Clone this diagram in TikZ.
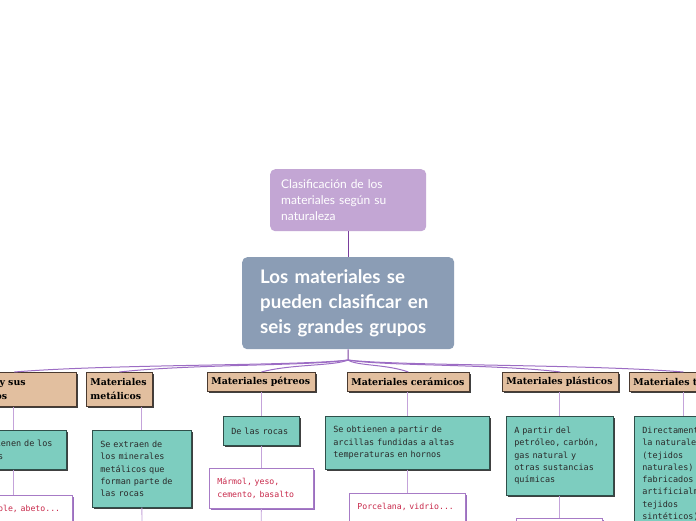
\documentclass[tikz,border=0pt]{standalone}
\usepackage{fontspec}
\setmainfont{Lato}
\newfontfamily\hdrfont{DejaVu Serif}
\newfontfamily\monofont{DejaVu Sans Mono}
\usetikzlibrary{shadows}
\definecolor{topfill}{HTML}{C3A6D4}
\definecolor{mainfill}{HTML}{8B9DB5}
\definecolor{trunk}{HTML}{7A3E9D}
\definecolor{fancol}{HTML}{9C6CC4}
\definecolor{vlinecol}{HTML}{C4A3DA}
\definecolor{hdrfill}{HTML}{E2BF9F}
\definecolor{hdrborder}{HTML}{4A3A30}
\definecolor{childfill}{HTML}{7DCDBF}
\definecolor{childborder}{HTML}{2F4F4A}
\definecolor{textdark}{HTML}{2A2A2A}
\definecolor{gcborder}{HTML}{A77BC6}
\definecolor{gcshadow}{HTML}{9A6FBF}
\definecolor{gctext}{HTML}{C8284A}
\tikzset{
  topbox/.style={fill=topfill, rounded corners=5pt, anchor=north west, inner xsep=11pt, inner ysep=0pt,
    text width=134pt, minimum height=62pt, align=left, text=white, font=\fontsize{12}{16}\selectfont},
  mainbox/.style={fill=mainfill, rounded corners=5pt, anchor=north west, inner xsep=18pt, inner ysep=0pt,
    text width=176pt, minimum height=92pt, align=left, text=white, font=\bfseries\fontsize{18.7}{25}\selectfont},
  hdr/.style={draw=hdrborder, fill=hdrfill, line width=0.8pt, anchor=north west, inner xsep=4pt, inner ysep=0pt,
    align=left, text=black, font=\hdrfont\bfseries\fontsize{9.4}{14}\selectfont,
    drop shadow={shadow xshift=1.5pt, shadow yshift=-1.5pt, opacity=1, fill=black!75}},
  childbox/.style={draw=childborder, fill=childfill, line width=0.7pt, anchor=north west, inner xsep=8pt, inner ysep=0pt,
    align=left, text=textdark, font=\monofont\fontsize{8.5}{12.3}\selectfont,
    drop shadow={shadow xshift=1.5pt, shadow yshift=-1.5pt, opacity=1, fill=black!75}},
  gchild/.style={draw=gcborder, fill=white, line width=0.8pt, anchor=north west, inner xsep=8pt, inner ysep=0pt,
    align=left, text=gctext, font=\monofont\fontsize{8.2}{12.8}\selectfont,
    drop shadow={shadow xshift=1.5pt, shadow yshift=-1.5pt, opacity=1, fill=gcshadow}},
  trunkline/.style={draw=trunk, line width=1pt},
  fan/.style={draw=fancol, line width=1pt},
  vline/.style={draw=vlinecol, line width=0.8pt},
}
\begin{document}
\begin{tikzpicture}[x=1pt,y=-1pt]
\useasboundingbox (0,0) rectangle (696,520);
\clip (0,0) rectangle (696,520);
\fill[white] (0,0) rectangle (696,520);

\node[topbox] (top) at (270,169) {Clasificación de los\\materiales según su\\naturaleza};
\node[mainbox] (main) at (242,257) {Los materiales se\\pueden clasificar en\\seis grandes grupos};
\coordinate (J) at (348,360);

% headers
\node[hdr, text width=116pt, minimum height=34pt] (madH) at (-48,372) {Madera y sus\\derivados};
\node[hdr, text width=58pt, minimum height=34pt] (metH) at (86,372) {Materiales\\metálicos};
\node[hdr, text width=100pt, minimum height=19pt] (petH) at (207,372) {Materiales pétreos};
\node[hdr, text width=114pt, minimum height=19pt] (cerH) at (347,372) {Materiales cerámicos};
\node[hdr, text width=108pt, minimum height=19pt] (plaH) at (502,372) {Materiales plásticos};
\node[hdr, text width=100pt, minimum height=19pt] (texH) at (629,372) {Materiales textiles};

% children
\node[childbox, inner xsep=7pt, text width=92pt, minimum height=39pt] (madC) at (-40,430) {Se obtienen de los\\árboles};
\node[childbox, text width=83pt, minimum height=77pt] (metC) at (92,430) {Se extraen de\\los minerales\\metálicos que\\forman parte de\\las rocas};
\node[childbox, text width=60pt, minimum height=29pt] (petC) at (223,416) {De las rocas};
\node[childbox, text width=148pt, minimum height=53pt] (cerC) at (325,416) {Se obtienen a partir de\\arcillas fundidas a altas\\temperaturas en hornos};
\node[childbox, text width=91pt, minimum height=79pt] (plaC) at (506,416) {A partir del\\petróleo, carbón,\\gas natural y\\otras sustancias\\químicas};
\node[childbox, text width=82pt, minimum height=115pt] (texC) at (634,416) {Directamente de\\la naturaleza\\(tejidos\\naturales)\\fabricados\\artificialmente\\tejidos\\sintéticos)};

% grandchildren
\node[gchild, inner xsep=5.5pt, text width=106pt, minimum height=28pt] (madG) at (-45,495) {Pino, roble, abeto...};
\node[gchild, text width=88pt, minimum height=40pt] (petG) at (209,468) {Mármol, yeso,\\cemento, basalto};
\node[gchild, text width=100pt, minimum height=28pt] (cerG) at (349,493) {Porcelana, vidrio...};
\node[gchild, text width=70pt, minimum height=28pt] (plaG) at (516,518) {};
\coordinate (metEnd) at (142,530);
\coordinate (petEnd) at (261,530);

% connectors
\draw[trunkline] (top.south) -- (main.north);
\draw[trunkline] (main.south) -- (J);
\draw[fan] (J) .. controls (298,366) and (110,364) .. (madH.north);
\draw[fan] (J) .. controls (314,366) and (190,364) .. (metH.north);
\draw[fan] (J) .. controls (335,366) and (291,364) .. (petH.north);
\draw[fan] (J) .. controls (357,366) and (386,364) .. (cerH.north);
\draw[fan] (J) .. controls (380,366) and (496,364) .. (plaH.north);
\draw[fan] (J) .. controls (398,366) and (586,364) .. (texH.north);

\draw[vline] (madC.north |- madH.south) -- (madC.north);
\draw[vline] (metC.north |- metH.south) -- (metC.north);
\draw[vline] (petC.north |- petH.south) -- (petC.north);
\draw[vline] (cerC.north |- cerH.south) -- (cerC.north);
\draw[vline] (plaC.north |- plaH.south) -- (plaC.north);
\draw[vline] (texC.north |- texH.south) -- (texC.north);

\draw[vline] (madC.south) -- (madC.south |- madG.north);
\draw[vline] (petG.north |- petC.south) -- (petG.north);
\draw[vline] (cerG.north |- cerC.south) -- (cerG.north);
\draw[vline] (plaG.north |- plaC.south) -- (plaG.north);
\draw[vline] (metC.south) -- (metEnd);
\draw[vline] (petG.south) -- (petEnd);
\end{tikzpicture}
\end{document}
